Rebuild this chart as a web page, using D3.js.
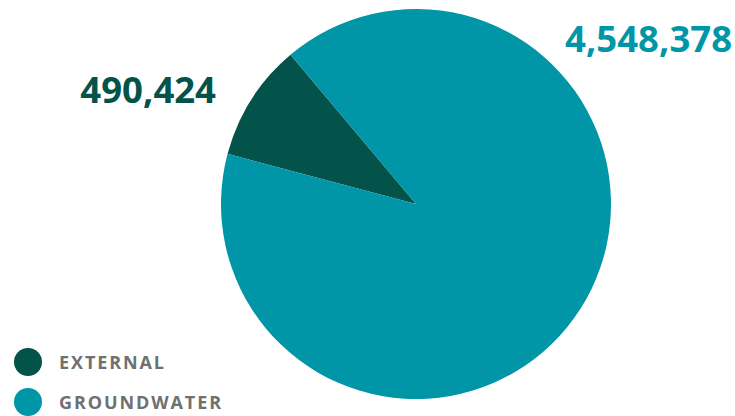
<!DOCTYPE html>
<html>
<head>
<meta charset="utf-8">
<script src="https://cdn.jsdelivr.net/npm/d3@7"></script>
<style>
  body { margin: 0; background: #fff; }
  svg { display: block; font-family: "Open Sans", "Noto Sans", sans-serif; }
</style>
</head>
<body>
<svg width="735" height="416"></svg>
<script>
const categories = ["External", "Groundwater"];
const values = [490424, 4548378];
const colors = ["#04534a", "#0096a8"];

const width = 735, height = 416;
const cx = 416, cy = 204, radius = 195;

const data = categories.map((c, i) => ({ name: c, value: values[i], color: colors[i] }));

const svg = d3.select("svg");

// external slice starts around 10 o'clock
const start = -75.1 * Math.PI / 180;
const pie = d3.pie()
  .sort(null)
  .value(d => d.value)
  .startAngle(start)
  .endAngle(start + 2 * Math.PI);

const arc = d3.arc().innerRadius(0).outerRadius(radius);

const g = svg.append("g").attr("transform", `translate(${cx},${cy})`);

g.selectAll("path")
  .data(pie(data))
  .join("path")
  .attr("d", arc)
  .attr("fill", d => d.data.color);

const fmt = d3.format(",");

// value labels
svg.append("text")
  .attr("x", 216)
  .attr("y", 103)
  .attr("text-anchor", "end")
  .attr("font-size", 36.5)
  .attr("font-weight", 700)
  .attr("fill", colors[0])
  .text(fmt(values[0]));

svg.append("text")
  .attr("x", 732)
  .attr("y", 52)
  .attr("text-anchor", "end")
  .attr("font-size", 36.5)
  .attr("font-weight", 700)
  .attr("fill", colors[1])
  .text(fmt(values[1]));

// legend
const legend = svg.append("g")
  .selectAll("g")
  .data(data)
  .join("g")
  .attr("transform", (d, i) => `translate(28, ${362 + i * 40})`);

legend.append("circle")
  .attr("r", 14)
  .attr("fill", d => d.color);

legend.append("text")
  .attr("x", 31)
  .attr("y", 7)
  .attr("font-size", 18)
  .attr("font-weight", 700)
  .attr("letter-spacing", 1.9)
  .attr("fill", "#707070")
  .text(d => d.name.toUpperCase());
</script>
</body>
</html>
